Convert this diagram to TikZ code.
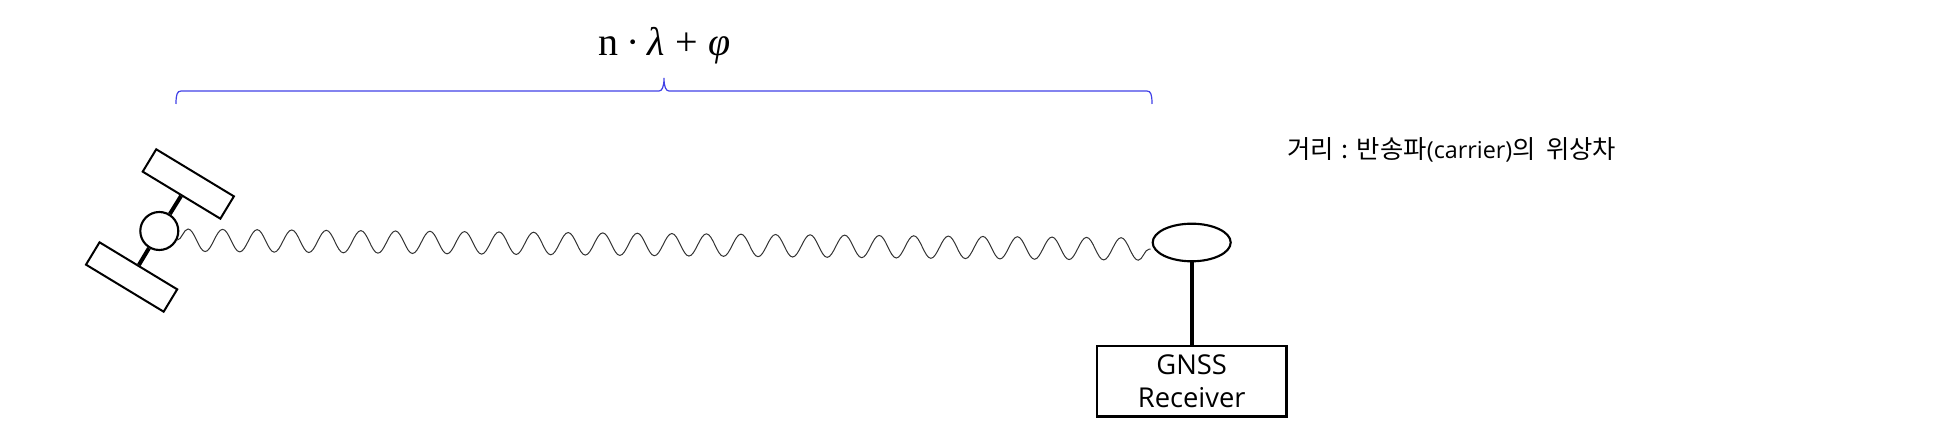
\documentclass[tikz,border=0pt]{standalone}
\usepackage{amsmath,amssymb}
\usepackage{fontspec}
\setmainfont{Open Sans}
\newfontfamily\kofont{Noto Sans CJK KR}
\newfontfamily\formulafont{Liberation Serif}
\usepackage{xcolor}
\usetikzlibrary{positioning, shapes.geometric, decorations.pathmorphing}
\definecolor{braceblue}{RGB}{64,64,230}
\begin{document}
\begin{tikzpicture}[
        x=0.75pt, y=-0.75pt,
        panel/.style={draw, line width=1.5pt, fill=white, minimum width=68.1pt,
                      minimum height=19.6pt, inner sep=0pt},
        strut/.style={line width=3pt},
        wave/.style={draw=black!80, line width=0.75pt, decorate,
                     decoration={snake, segment length=25.92pt, amplitude=8.4pt}},
        bracket/.style={draw=braceblue, line width=0.9pt},
        boxtext/.style={font=\fontsize{20.5}{25}\selectfont, align=center}
      ]
      \useasboundingbox (0,0) rectangle (1936,448);

      % satellite
      \node[circle, draw, line width=1.6pt, minimum size=28.5pt, inner sep=0pt] (satbody) at (159.3,231) {};
      \node[panel, rotate=-31.2] (sattop) at (188.3,184) {};
      \node[panel, rotate=-31.2] (satbot) at (131.6,277) {};
      \draw[strut] (sattop.south) -- (satbody);
      \draw[strut] (satbot.north) -- (satbody);

      % receiver
      \node[ellipse, draw, line width=1.6pt, minimum width=58.5pt, minimum height=28.2pt, inner sep=0pt] (antenna) at (1191.7,242.5) {};
      \node[draw, line width=1.7pt, minimum width=142.3pt, minimum height=52.8pt, inner sep=0pt,
            boxtext, below=62pt of antenna.south, anchor=north] (receiver) {GNSS\\Receiver};
      \draw[strut] (antenna) -- (receiver);

      \coordinate[left=2.5pt of antenna.190] (waveend);
      \draw[wave] (satbody.-27) -- (waveend);

      % distance
      \draw[bracket] (176,104) .. controls (176,95) and (177,91) .. (181,91) -- (659,91)
        .. controls (662,91) and (664,87) .. (664,78)
        .. controls (664,87) and (666,91) .. (669,91) -- (1147,91)
        .. controls (1151,91) and (1152,95) .. (1152,104);
      \node[font=\fontsize{30}{32}\formulafont] (formula) at (664.5,46)
        {n\kern6pt·\kern6pt{\itshape λ}\kern8pt+\kern8pt{\itshape φ}};
      \node[font=\fontsize{19}{22}\selectfont, anchor=west, inner sep=0pt] (caption) at (1287,150)
        {\kofont 거리\kern6pt:\kern6pt반송파{\rmfamily\fontsize{17.5}{22}\selectfont (carrier)}의\kern8pt위상차};
    \end{tikzpicture}
\end{document}
